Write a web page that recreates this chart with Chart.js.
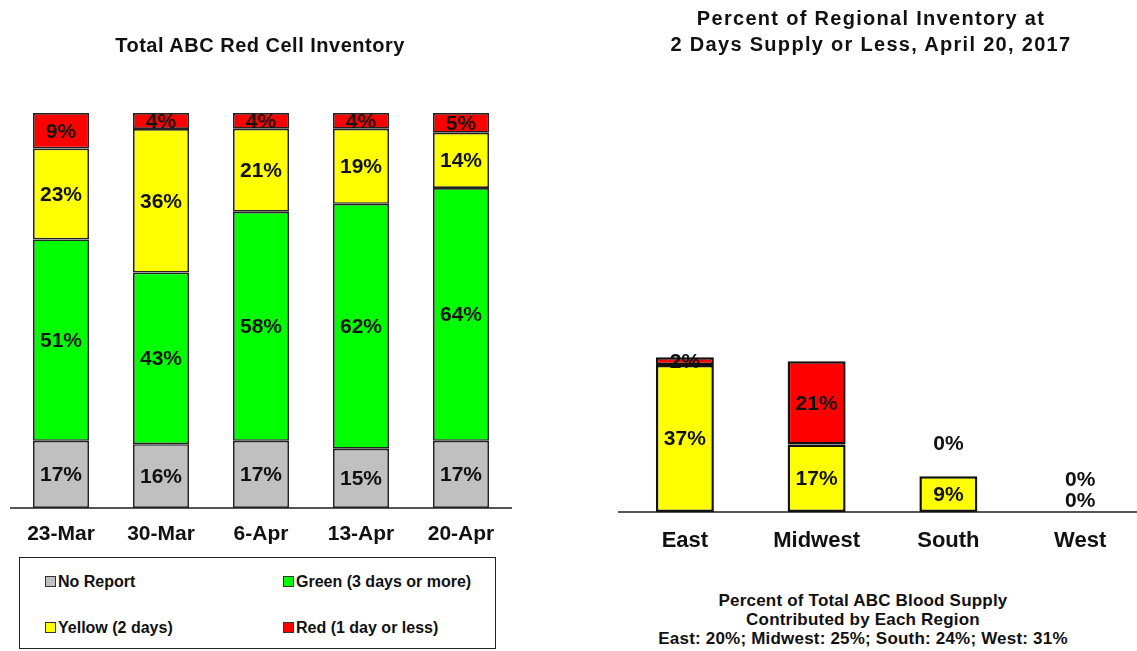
<!DOCTYPE html>
<html>
<head>
<meta charset="utf-8">
<script src="https://cdn.jsdelivr.net/npm/chart.js@4.4.0/dist/chart.umd.min.js"></script>
<style>
body{margin:0;width:1137px;height:651px;overflow:hidden;background:#fff;position:relative;
  font-family:"Liberation Sans",Arial,sans-serif;font-weight:bold;color:#111}
.abs{position:absolute}
.title{font-size:20px;text-align:center;line-height:26px;letter-spacing:0.5px}
#leftCanvas{position:absolute;left:0;top:0}
#rightCanvas{position:absolute;left:600px;top:0}
#legend{position:absolute;left:19px;top:557px;width:475px;height:90px;border:1.5px solid #222;font-size:16px}
.item{position:absolute;height:18px;line-height:18px}
.item i{display:inline-block;width:9px;height:9px;border:1px solid #333;margin-right:2px;vertical-align:0}
#footer{position:absolute;left:600px;top:591px;width:526px;text-align:center;font-size:17px;line-height:19px;letter-spacing:0.2px}
</style>
</head>
<body>
<canvas id="leftCanvas" width="560" height="555"></canvas>
<canvas id="rightCanvas" width="546" height="560"></canvas>
<div class="abs title" style="left:0;top:32px;width:520px">Total ABC Red Cell Inventory</div>
<div class="abs title" style="left:600px;top:5px;width:542px;letter-spacing:1.3px">Percent of Regional Inventory at<br>2 Days Supply or Less, April 20, 2017</div>
<div id="legend"></div>
<div id="footer"></div>
<script>
const weeks = ["23-Mar", "30-Mar", "6-Apr", "13-Apr", "20-Apr"];
const noReport = [17, 16, 17, 15, 17];
const greenInv = [51, 43, 58, 62, 64];
const yellowInv = [23, 36, 21, 19, 14];
const redInv = [9, 4, 4, 4, 5];

const regions = ["East", "Midwest", "South", "West"];
const regionYellow = [37, 17, 9, 0];
const regionRed = [2, 21, 0, 0];
const supplyShare = [20, 25, 24, 31];

const FONT = '"Liberation Sans", Arial, sans-serif';
const GRAY = "#c0c0c0", GREEN = "#00ff00", YELLOW = "#ffff00", RED = "#ff0000";

// percent labels drawn in the middle of each segment
const barLabels = {
  id: "barLabels",
  afterDatasetsDraw(chart){
    const ctx = chart.ctx;
    ctx.save();
    ctx.font = "bold 21px " + FONT;
    ctx.fillStyle = "#111";
    ctx.textAlign = "center";
    ctx.textBaseline = "middle";
    chart.data.datasets.forEach((ds, i) => {
      chart.getDatasetMeta(i).data.forEach((bar, j) => {
        const v = ds.raw[j];
        let y = (bar.y + bar.base) / 2;
        if (v === 0) y = bar.y - 12 - i * 21;
        ctx.fillText(v + "%", bar.x, y + 1);
      });
    });
    ctx.restore();
  }
};

/* LEFT: 100% stacked inventory */
const totals = weeks.map((w, i) => noReport[i] + greenInv[i] + yellowInv[i] + redInv[i]);
const share = arr => arr.map((v, i) => v / totals[i] * 100);

function leftSet(label, arr, color){
  return {label, raw: arr, data: share(arr), backgroundColor: color,
    borderColor: "#222", borderWidth: 1.7, borderSkipped: false,
    barPercentage: 0.56, categoryPercentage: 1};
}

new Chart(document.getElementById("leftCanvas"), {
  type: "bar",
  data: {
    labels: weeks,
    datasets: [
      leftSet("No Report", noReport, GRAY),
      leftSet("Green (3 days or more)", greenInv, GREEN),
      leftSet("Yellow (2 days)", yellowInv, YELLOW),
      leftSet("Red (1 day or less)", redInv, RED)
    ]
  },
  options: {
    responsive: false, animation: false,
    layout: {padding: {top: 113, left: 11, right: 49, bottom: 0}},
    plugins: {legend: {display: false}, tooltip: {enabled: false}},
    scales: {
      x: {
        stacked: true,
        grid: {display: false, drawTicks: false},
        border: {display: true, color: "#555", width: 2},
        ticks: {color: "#111", font: {family: FONT, size: 21, weight: "bold"}, padding: 14},
        afterFit: s => { s.height = 47; }
      },
      y: {stacked: true, display: false, min: 0, max: 100}
    }
  },
  plugins: [barLabels]
});

/* RIGHT: regions at 2 days supply or less */
function rightSet(label, arr, color){
  return {label, raw: arr, data: arr, backgroundColor: color,
    borderColor: "#111", borderWidth: 2.5, borderSkipped: false,
    barPercentage: 0.44, categoryPercentage: 1};
}

new Chart(document.getElementById("rightCanvas"), {
  type: "bar",
  data: {
    labels: regions,
    datasets: [
      rightSet("Yellow", regionYellow, YELLOW),
      rightSet("Red", regionRed, RED)
    ]
  },
  options: {
    responsive: false, animation: false,
    layout: {padding: {top: 115, left: 19, right: 0, bottom: 0}},
    plugins: {legend: {display: false}, tooltip: {enabled: false}},
    scales: {
      x: {
        stacked: true,
        grid: {display: false, drawTicks: false},
        border: {display: true, color: "#555", width: 2},
        ticks: {color: "#111", font: {family: FONT, size: 22, weight: "bold"}, padding: 16},
        afterFit: s => { s.height = 48; }
      },
      y: {stacked: true, display: false, min: 0, max: 100}
    }
  },
  plugins: [barLabels]
});

/* LEGEND (left panel) */
const legendItems = [
  ["No Report", GRAY, 25, 15],
  ["Green (3 days or more)", GREEN, 263, 15],
  ["Yellow (2 days)", YELLOW, 25, 61],
  ["Red (1 day or less)", RED, 263, 61]
];
const lg = document.getElementById("legend");
legendItems.forEach(([t, c, x, y]) => {
  const d = document.createElement("div");
  d.className = "item";
  d.style.left = x + "px"; d.style.top = y + "px";
  d.innerHTML = `<i style="background:${c}"></i>${t}`;
  lg.appendChild(d);
});

/* FOOTER (right panel) */
document.getElementById("footer").innerHTML =
  "Percent of Total ABC Blood Supply<br>Contributed by Each Region<br>" +
  regions.map((r, i) => `${r}: ${supplyShare[i]}%`).join("; ");
</script>
</body>
</html>
